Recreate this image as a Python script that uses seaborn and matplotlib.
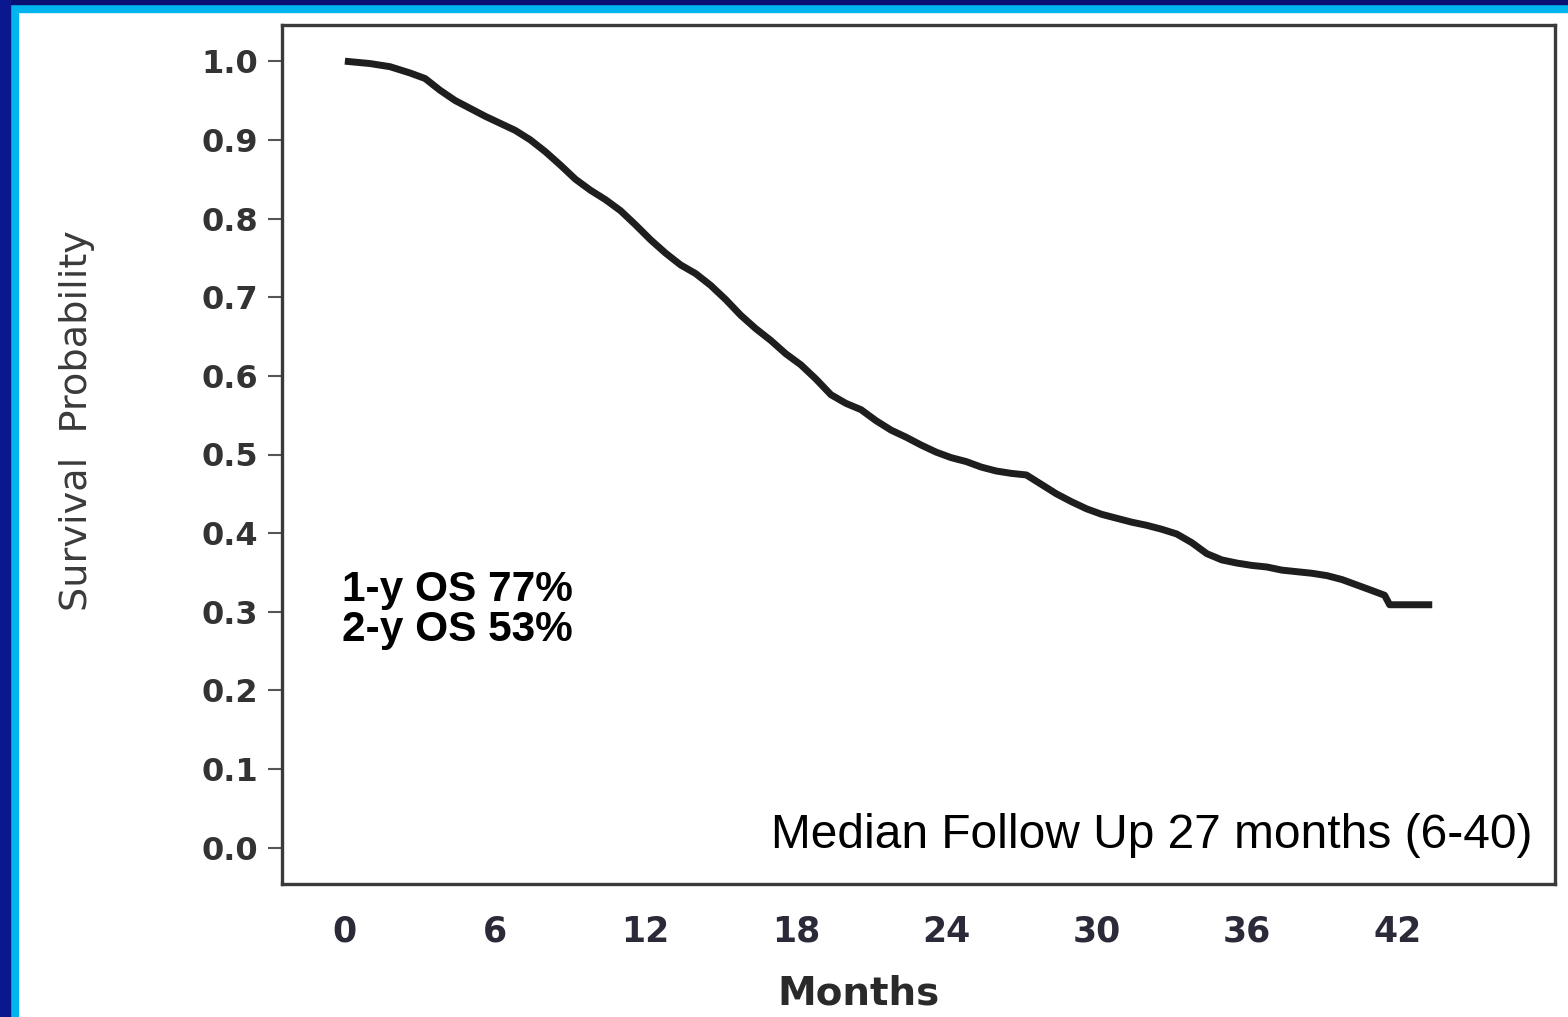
import seaborn as sns
import matplotlib.pyplot as plt
import matplotlib.patches as mpatches
import pandas as pd

# values
months = [0, 1.0, 1.8, 2.6, 3.2, 3.8, 4.4, 5.0, 5.6, 6.2, 6.8, 7.4, 8.0, 8.6, 9.2, 9.8,
          10.4, 11.0, 11.6, 12.2, 12.8, 13.4, 14.0, 14.6, 15.2, 15.8, 16.4, 17.0, 17.6,
          18.2, 18.8, 19.4, 20.0, 20.6, 21.2, 21.8, 22.4, 23.0, 23.6, 24.2, 24.8, 25.4,
          26.0, 26.6, 27.2, 27.8, 28.4, 29.0, 29.6, 30.2, 30.8, 31.4, 32.0, 32.6, 33.2,
          33.8, 34.4, 35.0, 35.6, 36.2, 36.8, 37.4, 38.0, 38.6, 39.2, 39.8, 40.4, 41.0,
          41.5, 41.7, 43.4]
survival = [1.0, 0.997, 0.993, 0.985, 0.978, 0.963, 0.950, 0.940, 0.930, 0.921, 0.912,
            0.900, 0.885, 0.868, 0.850, 0.836, 0.824, 0.810, 0.792, 0.773, 0.756, 0.741,
            0.730, 0.715, 0.697, 0.677, 0.660, 0.645, 0.628, 0.614, 0.596, 0.576, 0.565,
            0.557, 0.543, 0.531, 0.522, 0.512, 0.503, 0.496, 0.491, 0.484, 0.479, 0.476,
            0.474, 0.462, 0.450, 0.440, 0.431, 0.424, 0.419, 0.414, 0.410, 0.405, 0.399,
            0.388, 0.374, 0.366, 0.362, 0.359, 0.357, 0.353, 0.351, 0.349, 0.346, 0.341,
            0.334, 0.327, 0.321, 0.309, 0.309]
x_ticks = [0, 6, 12, 18, 24, 30, 36, 42]
y_ticks = [0.0, 0.1, 0.2, 0.3, 0.4, 0.5, 0.6, 0.7, 0.8, 0.9, 1.0]
os_text = ['1-y OS 77%', '2-y OS 53%']
followup_text = 'Median Follow Up 27 months (6-40)'

df = pd.DataFrame({'Months': months, 'Survival': survival})

sns.set_style('white')
plt.rcParams['font.family'] = ['DejaVu Sans']

W, H = 1568, 1017
fig = plt.figure(figsize=(W / 100, H / 100), dpi=100)
fig.patch.set_facecolor('white')

# blue slide frame (left and top)
def px_rect(x0, y0, w, h, color):
    fig.patches.append(mpatches.Rectangle((x0 / W, 1 - (y0 + h) / H), w / W, h / H,
                                          transform=fig.transFigure, color=color, zorder=0))
px_rect(0, 0, W, 12, '#00b4ee')
px_rect(0, 0, 18, H, '#00b4ee')
px_rect(0, 0, W, 4, '#0a0f72')
px_rect(0, 0, 10, H, '#0a1890')

ax = fig.add_axes([282 / W, 1 - 884 / H, (1555 - 282) / W, (884 - 25) / H])
sns.lineplot(data=df, x='Months', y='Survival', color='#1e1e1e', linewidth=5,
             solid_joinstyle='round', solid_capstyle='butt', ax=ax)

ax.set_xlim(-2.51, 48.3)
ax.set_ylim(-0.046, 1.046)
ax.set_xticks(x_ticks)
ax.set_xticklabels([str(t) for t in x_ticks], fontsize=25, fontweight='bold', color='#2a2a38')
ax.set_yticks(y_ticks)
ax.set_yticklabels([f'{t:.1f}' for t in y_ticks], fontsize=23, fontweight='bold', color='#333333')
ax.tick_params(axis='y', length=10, width=1.5, color='#555555', pad=7, left=True)
ax.tick_params(axis='x', length=0, pad=22)

for s in ax.spines.values():
    s.set_color('#3a3a3a')
    s.set_linewidth(2.4)

ax.set_xlabel('Months', fontsize=28, fontweight='bold', color='#2a2a2a')
ax.set_ylabel('Survival  Probability', fontsize=27.5, color='#3a3a3a')
ax.xaxis.label.set_va('center')
ax.xaxis.set_label_coords(0.4525, -0.127)
ax.yaxis.set_label_coords(-0.147, 0.54)

ax.text(0.047, 0.342, os_text[0], transform=ax.transAxes, fontsize=30.5, fontweight='bold',
        family=['Liberation Sans'], ha='left', va='center', color='black')
ax.text(0.047, 0.296, os_text[1], transform=ax.transAxes, fontsize=30.5, fontweight='bold',
        family=['Liberation Sans'], ha='left', va='center', color='black')
ax.text(0.9827, 0.057, followup_text, transform=ax.transAxes, fontsize=34.5,
        family=['Liberation Sans'], ha='right', va='center', color='black')

fig.savefig('out.png', dpi=100)
